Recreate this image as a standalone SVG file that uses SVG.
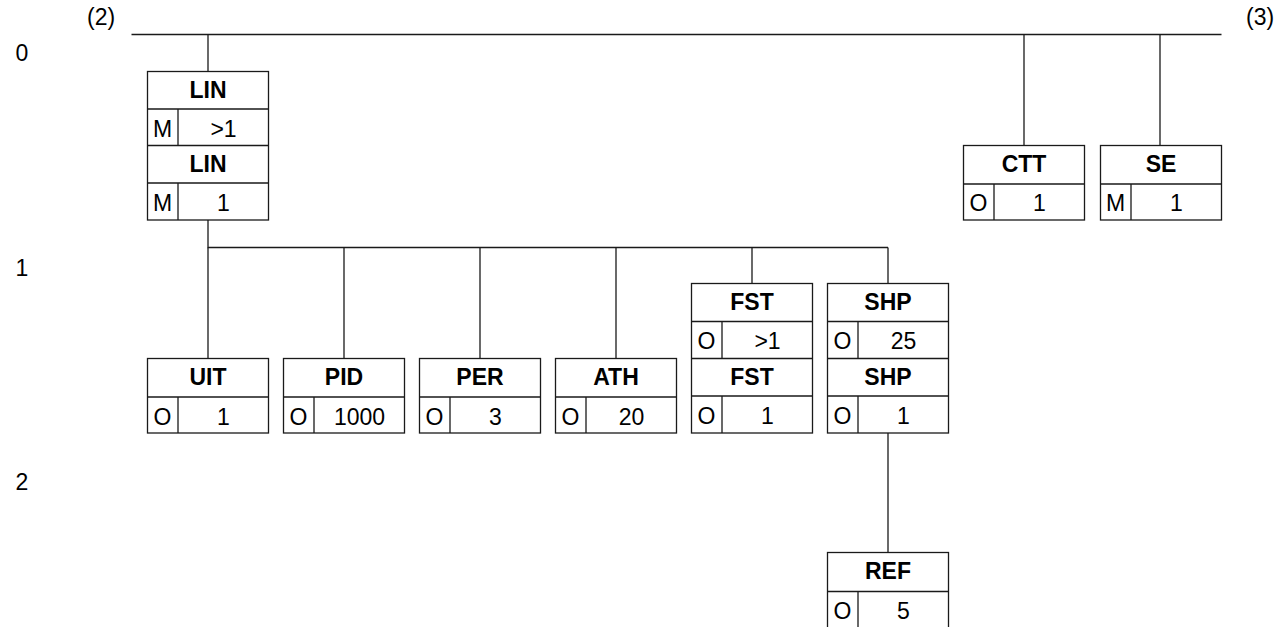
<svg xmlns="http://www.w3.org/2000/svg" width="1279" height="627" viewBox="0 0 1279 627">
<style>
.b{fill:#fff;stroke:#1a1a1a;stroke-width:1.3}
.l{stroke:#1a1a1a;stroke-width:1.3;fill:none}
.h{font-family:"Liberation Sans",Arial,sans-serif;font-size:23px;font-weight:bold;text-anchor:middle;fill:#000}
.t{font-family:"Liberation Sans",Arial,sans-serif;font-size:23px;text-anchor:middle;fill:#000}
.lab{font-family:"Liberation Sans",Arial,sans-serif;font-size:23px;fill:#000}
</style>
<rect width="1279" height="627" fill="#fff"/>
<g id="labels">
<text class="lab" x="87" y="25">(2)</text>
<text class="lab" x="1246" y="25">(3)</text>
<text class="lab" x="15.5" y="61">0</text>
<text class="lab" x="15.5" y="276">1</text>
<text class="lab" x="15.5" y="490">2</text>
</g>
<g id="connectors">
<path class="l" d="M131.5 34.5H1221.5"/>
<path class="l" d="M208 34.5V71.5"/>
<path class="l" d="M1024 34.5V145.5"/>
<path class="l" d="M1160 34.5V145.5"/>
<path class="l" d="M208 220V247.5H888"/>
<path class="l" d="M208 247.5V358.5"/>
<path class="l" d="M344 247.5V358.5"/>
<path class="l" d="M480 247.5V358.5"/>
<path class="l" d="M616 247.5V358.5"/>
<path class="l" d="M752 247.5V283.5"/>
<path class="l" d="M888 247.5V283.5"/>
<path class="l" d="M888 433V552.5"/>
</g>
<g id="LIN">
<rect class="b" x="147.5" y="71.5" width="121" height="148.5"/>
<path class="l" d="M147.5 109H268.5M147.5 145.5H268.5M147.5 183H268.5M178 109V145.5M178 183V220"/>
<text class="h" x="208" y="98">LIN</text>
<text class="t" x="162.5" y="137">M</text>
<text class="t" x="223.5" y="137">&gt;1</text>
<text class="h" x="208" y="172">LIN</text>
<text class="t" x="162.5" y="211">M</text>
<text class="t" x="223.5" y="211">1</text>
</g>
<g id="CTT">
<rect class="b" x="963.5" y="145.5" width="121" height="74.5"/>
<path class="l" d="M963.5 184H1084.5M994 184V220"/>
<text class="h" x="1024" y="172">CTT</text>
<text class="t" x="978.5" y="211">O</text>
<text class="t" x="1039.5" y="211">1</text>
</g>
<g id="SE">
<rect class="b" x="1100.5" y="145.5" width="121" height="74.5"/>
<path class="l" d="M1100.5 184H1221.5M1131 184V220"/>
<text class="h" x="1161" y="172">SE</text>
<text class="t" x="1115.5" y="211">M</text>
<text class="t" x="1176.5" y="211">1</text>
</g>
<g id="UIT">
<rect class="b" x="147.5" y="358.5" width="121" height="74.5"/>
<path class="l" d="M147.5 397H268.5M178 397V433"/>
<text class="h" x="208" y="385">UIT</text>
<text class="t" x="162.5" y="425">O</text>
<text class="t" x="223.5" y="425">1</text>
</g>
<g id="PID">
<rect class="b" x="283.5" y="358.5" width="121" height="74.5"/>
<path class="l" d="M283.5 397H404.5M314 397V433"/>
<text class="h" x="344" y="385">PID</text>
<text class="t" x="298.5" y="425">O</text>
<text class="t" x="359.5" y="425">1000</text>
</g>
<g id="PER">
<rect class="b" x="419.5" y="358.5" width="121" height="74.5"/>
<path class="l" d="M419.5 397H540.5M450 397V433"/>
<text class="h" x="480" y="385">PER</text>
<text class="t" x="434.5" y="425">O</text>
<text class="t" x="495.5" y="425">3</text>
</g>
<g id="ATH">
<rect class="b" x="555.5" y="358.5" width="121" height="74.5"/>
<path class="l" d="M555.5 397H676.5M586 397V433"/>
<text class="h" x="616" y="385">ATH</text>
<text class="t" x="570.5" y="425">O</text>
<text class="t" x="631.5" y="425">20</text>
</g>
<g id="FST">
<rect class="b" x="691.5" y="283.5" width="121" height="149.5"/>
<path class="l" d="M691.5 321.5H812.5M691.5 358.5H812.5M691.5 396H812.5M722 321.5V358.5M722 396V433"/>
<text class="h" x="752" y="310">FST</text>
<text class="t" x="706.5" y="349">O</text>
<text class="t" x="767.5" y="349">&gt;1</text>
<text class="h" x="752" y="385">FST</text>
<text class="t" x="706.5" y="424">O</text>
<text class="t" x="767.5" y="424">1</text>
</g>
<g id="SHP">
<rect class="b" x="827.5" y="283.5" width="121" height="149.5"/>
<path class="l" d="M827.5 321.5H948.5M827.5 358.5H948.5M827.5 396H948.5M858 321.5V358.5M858 396V433"/>
<text class="h" x="888" y="310">SHP</text>
<text class="t" x="842.5" y="349">O</text>
<text class="t" x="903.5" y="349">25</text>
<text class="h" x="888" y="385">SHP</text>
<text class="t" x="842.5" y="424">O</text>
<text class="t" x="903.5" y="424">1</text>
</g>
<g id="REF">
<rect class="b" x="827.5" y="552.5" width="121" height="77"/>
<path class="l" d="M827.5 591.5H948.5M858 591.5V630"/>
<text class="h" x="888" y="579">REF</text>
<text class="t" x="842.5" y="619">O</text>
<text class="t" x="903.5" y="619">5</text>
</g>
</svg>
